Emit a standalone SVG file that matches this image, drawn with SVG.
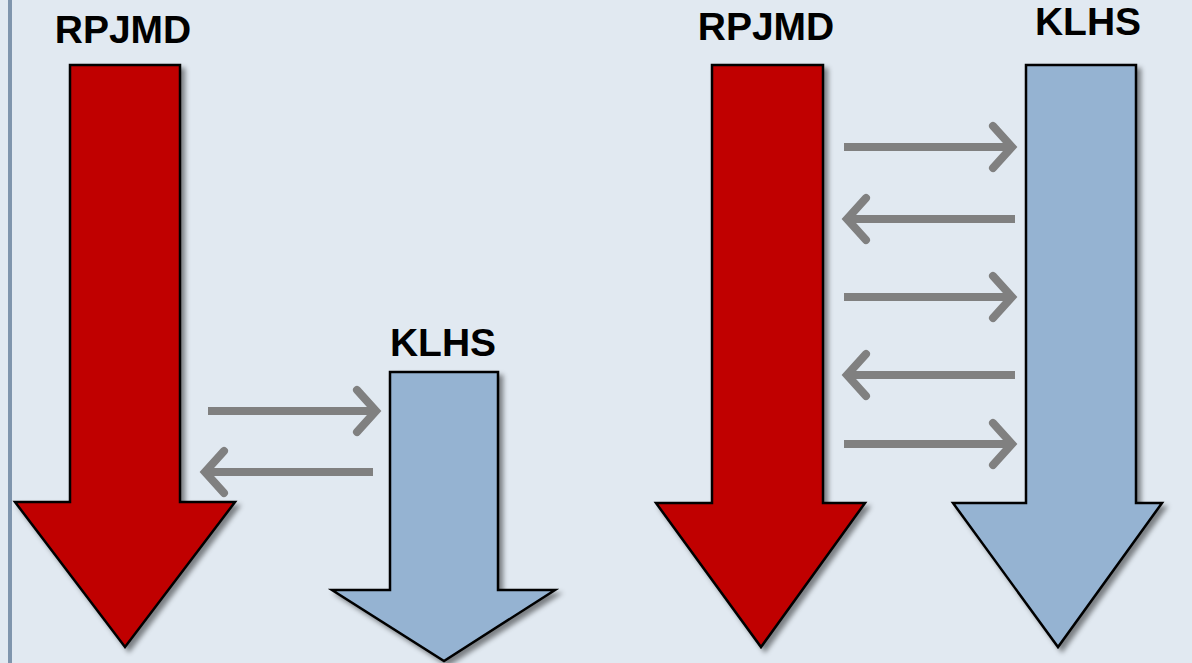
<svg xmlns="http://www.w3.org/2000/svg" width="1192" height="663" viewBox="0 0 1192 663">
<style>
.lbl{font-family:"Liberation Sans",Arial,sans-serif;font-weight:bold;font-size:39px;fill:#000;text-anchor:middle}
.red{fill:#c00000;stroke:#000;stroke-width:2.5;stroke-linejoin:miter;filter:url(#sh)}
.blue{fill:#95b3d2;stroke:#000;stroke-width:2.5;stroke-linejoin:miter;filter:url(#sh)}
.con path{fill:none;stroke:#808080;stroke-width:8}
.con path.hd{stroke-linecap:round;stroke-linejoin:miter}
</style>
<defs>
<filter id="sh" x="-20%" y="-20%" width="140%" height="140%">
<feDropShadow dx="4" dy="4" stdDeviation="2.5" flood-color="#000" flood-opacity="0.45"/>
</filter>
</defs>
<rect x="0" y="0" width="1192" height="663" fill="#e1e9f1"/>
<rect x="8" y="0" width="4" height="663" fill="#7f95ad"/>
<g id="rpjmd-left">
<polygon class="red" points="70,65 180,65 180,502 235,502 125,647 15,502 70,502"/>
<text class="lbl" x="123" y="43">RPJMD</text>
</g>
<g id="klhs-left">
<polygon class="blue" points="390,372 498,372 498,590 555,590 444,661 332,590 390,590"/>
<text class="lbl" x="443" y="356">KLHS</text>
</g>
<g id="rpjmd-right">
<polygon class="red" points="712,65 823,65 823,503 865,503 761,647 656,503 712,503"/>
<text class="lbl" x="766" y="40">RPJMD</text>
</g>
<g id="klhs-right">
<polygon class="blue" points="1026,65 1136,65 1136,503 1162,503 1058,647 953,503 1026,503"/>
<text class="lbl" x="1088" y="35">KLHS</text>
</g>
<g id="connectors" class="con">
<path d="M208,411 H374"/><path class="hd" d="M357,390 L376,411 L357,432"/>
<path d="M373,472 H207"/><path class="hd" d="M224,451 L205,472 L224,493"/>
<path d="M844,147 H1010"/><path class="hd" d="M993,126 L1012,147 L993,168"/>
<path d="M1015,219 H849"/><path class="hd" d="M866,198 L847,219 L866,240"/>
<path d="M844,297 H1010"/><path class="hd" d="M993,276 L1012,297 L993,318"/>
<path d="M1015,375 H849"/><path class="hd" d="M866,354 L847,375 L866,396"/>
<path d="M844,444 H1010"/><path class="hd" d="M993,423 L1012,444 L993,465"/>
</g>
</svg>
